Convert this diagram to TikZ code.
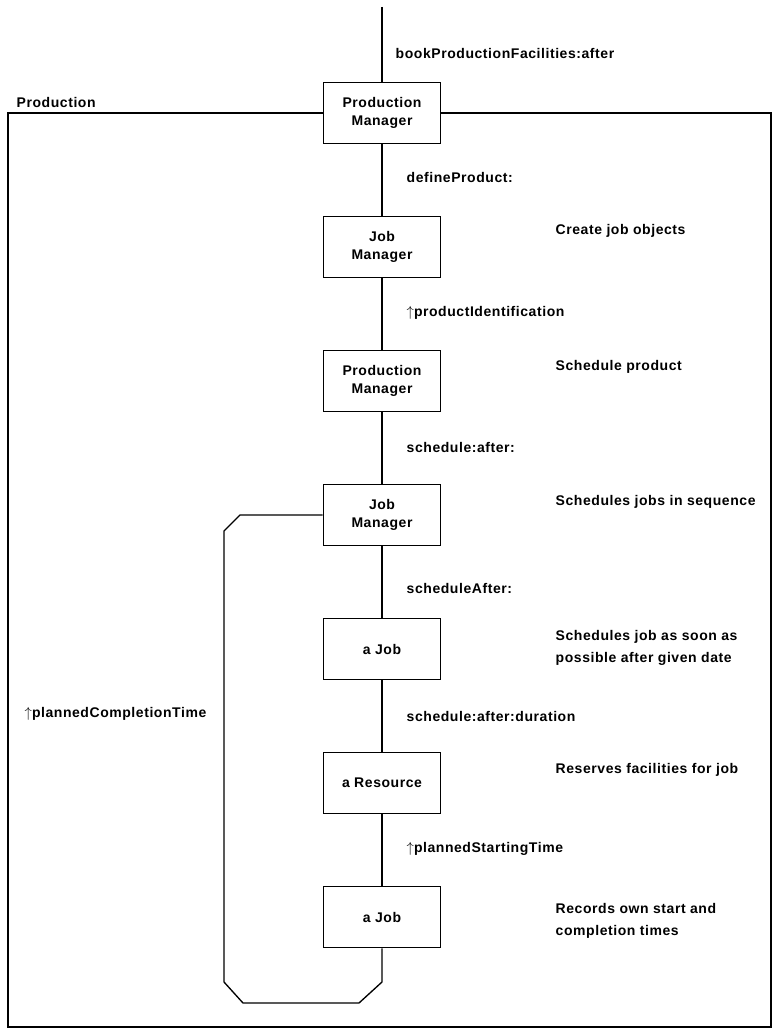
\documentclass[tikz,border=0pt]{standalone}
\usepackage{fontspec}
\setmainfont{Liberation Sans}[LetterSpace=4]
\tikzset{
  objbox/.style={draw, line width=1.1pt, minimum width=88pt, minimum height=46pt,
    align=center, font=\fontsize{10.5}{13.5}\selectfont\bfseries},
  msglabel/.style={anchor=west, font=\fontsize{10.5}{13}\selectfont\bfseries},
  notelabel/.style={anchor=west, align=left, font=\fontsize{10.5}{16.5}\selectfont\bfseries},
  wire/.style={line width=1pt}
}
\begin{document}
\begin{tikzpicture}[x=0.75pt, y=-0.75pt]
        \useasboundingbox (0,0) rectangle (774,1030);

        % Objetos
        \node[objbox] (pm1) at (382,113) {Production\\Manager};
        \node[objbox] (jm1) at (382,247) {Job\\Manager};
        \node[objbox] (pm2) at (382,381) {Production\\Manager};
        \node[objbox] (jm2) at (382,515) {Job\\Manager};
        \node[objbox] (job1) at (382,649) {a Job};
        \node[objbox] (res) at (382,783) {a Resource};
        \node[objbox] (job2) at (382,917) {a Job};

        % Mensaje de entrada
        \coordinate (entry) at (382,7);
        \draw[wire] (entry) -- (pm1.north);

        % Marco Production
        \draw[wire] (pm1.west) -- (8,113) -- (8,1027) -- (771,1027) -- (771,113) -- (pm1.east);
        \node[msglabel] (frame) at (12,102) {Production};

        % Cadena de mensajes
        \draw[wire] (pm1) -- (jm1) -- (pm2) -- (jm2) -- (job1) -- (res) -- (job2);
        \draw[wire] (jm2.west) -- (240,515) -- (224,531) -- (224,982) -- (243,1003)
          -- (359,1003) -- (382,982) -- (job2.south);

        % Etiquetas de mensajes
        \node[msglabel] (m0) at (391,54) {bookProductionFacilities:after};
        \node[msglabel] (m1) at (402,177) {defineProduct:};
        \node[msglabel] (m2) at (402,313) {$\uparrow$productIdentification};
        \node[msglabel] (m3) at (402,447) {schedule:after:};
        \node[msglabel] (m4) at (402,588) {scheduleAfter:};
        \node[msglabel] (m5) at (402,716) {schedule:after:duration};
        \node[msglabel] (m6) at (402,849) {$\uparrow$plannedStartingTime};
        \node[msglabel] (m7) at (20,714) {$\uparrow$plannedCompletionTime};

        % Notas
        \node[notelabel] (n1) at (551,231) {Create job objects};
        \node[notelabel] (n2) at (551,367) {Schedule product};
        \node[notelabel] (n3) at (551,502) {Schedules jobs in sequence};
        \node[notelabel] (n4) at (551,648) {Schedules job as soon as\\possible after given date};
        \node[notelabel] (n5) at (551,770) {Reserves facilities for job};
        \node[notelabel] (n6) at (551,921) {Records own start and\\completion times};
\end{tikzpicture}
\end{document}
